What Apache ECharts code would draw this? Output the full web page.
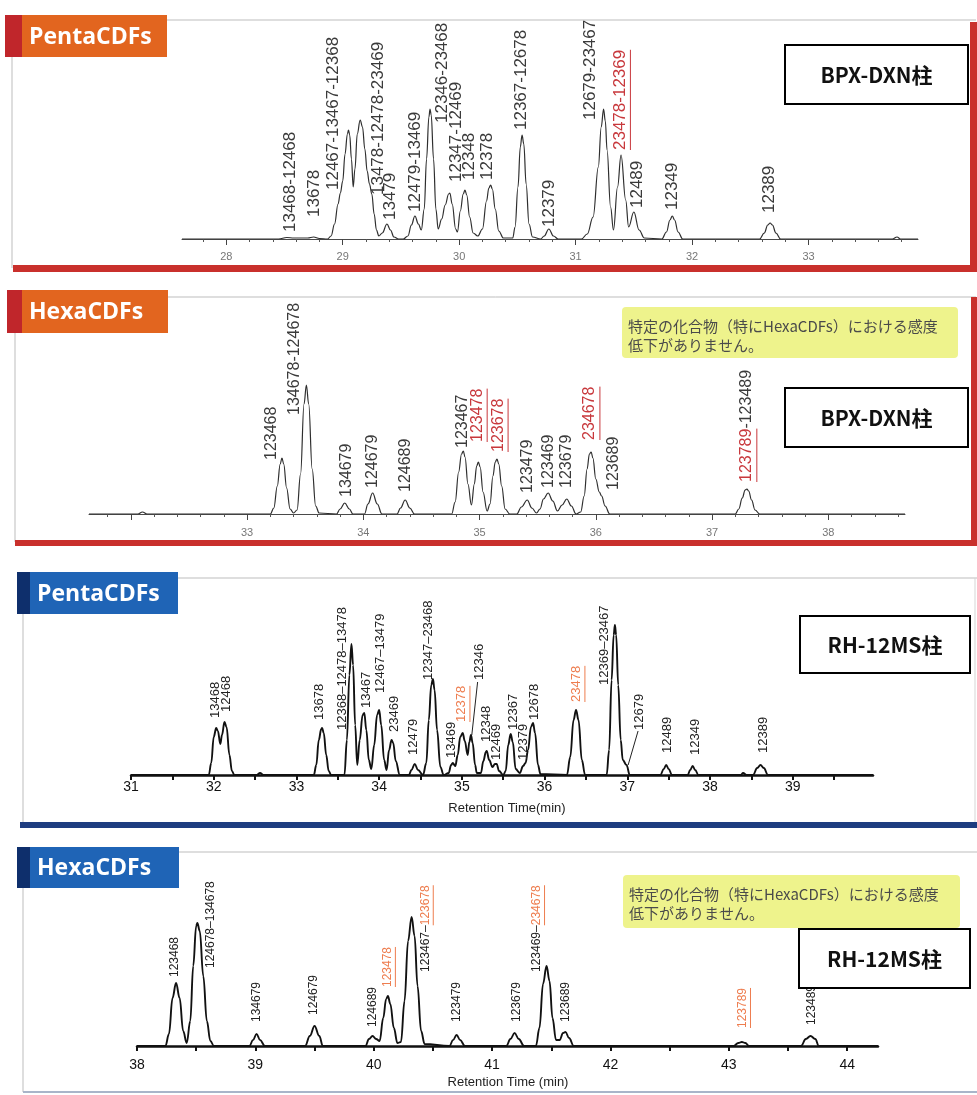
<!DOCTYPE html>
<html><head><meta charset="utf-8">
<script src="https://cdn.jsdelivr.net/npm/echarts@6/dist/echarts.min.js"></script>
<style>html,body{margin:0;padding:0;background:#fff}#c{width:977px;height:1095px}</style>
</head><body><div id="c"></div><script>
// ---------------- DATA (retention time [min], relative intensity) ----------------
// Panel 1: PentaCDFs on BPX-DXN
const p1Trace = [[27.62,0],[28.45,0],[28.52,1.5],[28.58,1],[28.70,1],[28.75,2],[28.80,0.5],[28.87,0],
 [28.90,3],[28.93,15],[28.96,35],[28.98,46],[29.00,58],[29.02,85],[29.04,105],[29.05,109],[29.06,104],[29.075,80],[29.09,52],[29.105,70],[29.125,105],[29.15,119],[29.17,112],[29.19,90],[29.21,68],[29.23,55],[29.25,45],[29.27,25],[29.29,9],[29.31,3],
 [29.34,6],[29.38,15],[29.41,9],[29.44,2],[29.48,0],[29.52,0],
 [29.56,3],[29.59,14],[29.62,23],[29.65,15],[29.675,9],[29.70,30],[29.72,80],[29.74,122],[29.75,130],[29.76,124],[29.78,80],[29.80,30],[29.82,10],[29.85,20],[29.88,34],[29.91,45],[29.92,46],[29.94,35],[29.97,10],[29.985,7],
 [30.01,28],[30.035,45],[30.05,49],[30.065,44],[30.09,22],[30.12,6],[30.16,3],[30.20,10],[30.235,38],[30.255,51],[30.27,54],[30.285,50],[30.31,30],[30.34,8],[30.38,1],
 [30.46,1],[30.48,12],[30.505,52],[30.525,92],[30.54,104],[30.555,95],[30.575,55],[30.60,15],[30.63,2],[30.70,0],[30.73,3],[30.77,10],[30.81,3],[30.85,0],
 [31.05,0],[31.10,5],[31.15,22],[31.195,72],[31.22,112],[31.24,130],[31.255,118],[31.27,89],[31.30,32],[31.325,9],[31.36,52],[31.39,84],[31.43,39],[31.455,12],[31.50,27],[31.545,9],[31.59,1],
 [31.74,0],[31.78,7],[31.81,19],[31.83,23],[31.85,19],[31.88,7],[31.92,0],[32.58,0],[32.62,6],[32.65,14],[32.67,16],[32.69,14],[32.72,6],[32.76,0],[33.72,0],[33.76,2],[33.79,0],[33.94,0]];
const p1LabelText = ['13468-12468','13678','12467-13467-12368','13478-12478-23469','13479','12479-13469','12346-23468','12347-12469','12348','12378','12367-12678','12379','12679-23467','[23478-12369]','12489','12349','12389'];
const p1LabelRt   = [28.55,28.76,28.92,29.31,29.41,29.62,29.853,29.977,30.09,30.24,30.53,30.77,31.13,31.38,31.53,31.83,32.66];
const p1LabelBase = [7,22,49,44,19,27,116,57,59,59,109,12,119,89,31,29,26];
const p1TickMinor = [27.8,28.0,28.2,28.4,28.6,28.8,29.0,29.2,29.4,29.6,29.8,30.0,30.2,30.4,30.6,30.8,31.0,31.2,31.4,31.6,31.8,32.0,32.2,32.4,32.6,32.8,33.0,33.2,33.4,33.6,33.8];
const p1TickMajor = [28,29,30,31,32,33];
const p1TickLabels = [28,29,30,31,32,33];

// Panel 2: HexaCDFs on BPX-DXN
const p2Trace = [[31.64,0],[32.06,0],[32.10,2],[32.14,0],[33.20,0],[33.23,6],[33.26,28],[33.285,50],[33.30,56],[33.315,50],[33.34,26],[33.37,5],[33.40,1],[33.43,4],[33.46,40],[33.49,110],[33.51,129],[33.53,110],[33.56,45],[33.59,8],[33.62,1],
 [33.77,0],[33.80,5],[33.84,11],[33.88,5],[33.91,0],[34.01,0],[34.04,10],[34.08,21],[34.12,10],[34.16,0],[34.29,0],[34.32,6],[34.36,14],[34.40,6],[34.44,0],
 [34.76,0],[34.79,12],[34.82,42],[34.845,60],[34.86,63],[34.875,57],[34.90,30],[34.93,9],[34.955,30],[34.975,48],[34.99,52],[35.005,47],[35.03,22],[35.065,3],[35.09,10],[35.115,38],[35.135,52],[35.15,55],[35.165,50],[35.19,28],[35.22,5],[35.26,0],
 [35.32,0],[35.36,7],[35.41,14],[35.45,6],[35.49,1],[35.52,5],[35.55,15],[35.59,21],[35.63,13],[35.67,3],[35.71,9],[35.75,15],[35.79,8],[35.83,0],
 [35.87,2],[35.90,18],[35.925,45],[35.945,60],[35.96,62],[35.975,56],[36.00,35],[36.03,22],[36.05,18],[36.08,8],[36.12,0],[37.20,0],[37.23,5],[37.26,16],[37.285,24],[37.30,25],[37.315,23],[37.34,14],[37.37,4],[37.41,0],[38.66,0]];
const p2LabelText = ['123468','134678-124678','134679','124679','124689','123467','[123478]','[123678]','123479','123469','123679','[234678]','123689','[123789]-123489'];
const p2LabelRt   = [33.215,33.41,33.86,34.08,34.36,34.85,34.98,35.16,35.41,35.59,35.75,35.95,36.15,37.30];
const p2LabelBase = [54,99,17,26,22,66,72,62,21,26,26,74,24,32];
const p2TickMinor = [31.8,32.0,32.2,32.4,32.6,32.8,33.0,33.2,33.4,33.6,33.8,34.0,34.2,34.4,34.6,34.8,35.0,35.2,35.4,35.6,35.8,36.0,36.2,36.4,36.6,36.8,37.0,37.2,37.4,37.6,37.8,38.0,38.2,38.4,38.6];
const p2TickMajor = [32,33,34,35,36,37,38];
const p2TickLabels = [33,34,35,36,37,38];

// Panel 3: PentaCDFs on RH-12MS
const p3Trace = [[31,0],[31.94,0],[31.97,12],[32.00,38],[32.03,47],[32.05,44],[32.08,31],[32.10,40],[32.13,53],[32.155,48],[32.19,20],[32.22,4],[32.25,0],[32.52,0],[32.56,2],[32.60,0],
 [33.21,0],[33.24,10],[33.27,35],[33.30,46],[33.31,47],[33.33,42],[33.36,20],[33.39,4],[33.42,0],[33.58,0],[33.61,35],[33.64,100],[33.665,131],[33.685,110],[33.71,50],[33.735,10],[33.765,35],[33.80,60],[33.82,62],[33.845,45],[33.875,15],[33.905,6],
 [33.94,30],[33.975,60],[34.00,65],[34.025,50],[34.06,15],[34.09,5],[34.12,25],[34.15,35],[34.17,32],[34.20,14],[34.25,0],
 [34.36,0],[34.39,5],[34.43,11],[34.47,5],[34.53,0],[34.57,12],[34.60,55],[34.63,90],[34.65,96],[34.67,85],[34.70,45],[34.74,8],[34.78,0],[34.84,2],[34.87,10],[34.89,12],[34.92,9],[34.95,20],[34.98,38],[35.01,42],[35.035,34],[35.07,20],[35.09,33],[35.11,40],[35.13,32],[35.16,10],[35.18,2],
 [35.23,2],[35.26,14],[35.29,23],[35.30,24],[35.33,15],[35.37,8],[35.40,11],[35.42,11],[35.45,4],[35.50,0],[35.53,4],[35.56,30],[35.59,41],[35.615,33],[35.65,6],[35.70,2],[35.74,9],[35.77,12],[35.80,25],[35.835,48],[35.86,52],[35.885,42],[35.92,10],[35.95,1],
 [36.27,0],[36.31,18],[36.35,55],[36.38,65],[36.41,55],[36.45,15],[36.49,0],[36.75,0],[36.78,25],[36.81,95],[36.835,140],[36.85,150],[36.865,140],[36.89,90],[36.92,35],[36.945,15],[36.99,10],[37.03,0],
 [37.40,0],[37.44,6],[37.47,10],[37.50,6],[37.54,0],[37.73,0],[37.76,5],[37.79,9],[37.82,5],[37.86,0],[38.37,0],[38.40,2],[38.44,0],[38.52,0],[38.57,7],[38.61,10],[38.65,7],[38.70,0],[39.97,0]];
const p3LabelText = ['13468','12468','13678','12368\u201312478\u201313478','13467','12467\u201313479','23469','12479','12347\u201323468','13469','[12378]','12346','12348','12469','12367','12379','12678','[23478]','12369\u201323467','12679','12489','12349','12389'];
const p3LabelRt   = [32.02,32.15,33.28,33.56,33.84,34.01,34.18,34.41,34.59,34.87,35.00,35.21,35.30,35.42,35.62,35.75,35.88,36.39,36.72,37.15,37.49,37.82,38.64];
const p3LabelBase = [57,63,55,45,67,82,43,20,95,17,53,95,33,15,45,15,55,73,90,45,22,20,22];
const p3LeaderFrom = [[35.19,93],[37.13,44]];
const p3LeaderTo   = [[35.12,40],[37.01,10]];
const p3Ticks = [31,31.5,32,32.5,33,33.5,34,34.5,35,35.5,36,36.5,37,37.5,38,38.5,39,39.5];
const p3TickLabels = [31,32,33,34,35,36,37,38,39];

// Panel 4: HexaCDFs on RH-12MS
const p4Trace = [[38,0],[38.24,0],[38.27,12],[38.30,48],[38.33,63],[38.36,48],[38.39,15],[38.42,3],[38.45,25],[38.475,80],[38.50,120],[38.51,123],[38.53,115],[38.56,70],[38.59,25],[38.62,5],[38.65,0],
 [38.95,0],[38.98,6],[39.01,12],[39.04,6],[39.08,0],[39.42,0],[39.46,10],[39.50,20],[39.54,10],[39.57,0],[39.93,0],[39.96,7],[39.99,10],[40.02,7],[40.05,5],[40.08,28],[40.105,47],[40.12,50],[40.14,42],[40.17,18],[40.20,3],
 [40.23,4],[40.26,45],[40.29,105],[40.32,129],[40.345,110],[40.37,60],[40.40,15],[40.43,2],[40.64,0],[40.67,6],[40.70,11],[40.73,6],[40.77,0],[41.12,0],[41.155,7],[41.19,13],[41.225,7],[41.27,0],
 [41.37,0],[41.40,18],[41.43,62],[41.46,80],[41.485,65],[41.51,28],[41.54,6],[41.57,6],[41.60,13],[41.62,14],[41.65,8],[41.69,0],[43.04,0],[43.08,3],[43.11,4],[43.14,3],[43.17,0],[43.61,0],[43.65,7],[43.69,10],[43.73,7],[43.76,0],[44.26,0]];
const p4LabelText = ['123468','124678\u2013134678','134679','124679','124689','[123478]','123467\u2013[123678]','123479','123679','123469\u2013[234678]','123689','[123789]','123489'];
const p4LabelRt   = [38.32,38.62,39.01,39.49,39.99,40.12,40.44,40.70,41.21,41.38,41.62,43.12,43.70];
const p4LabelBase = [69,78,24,31,19,59,74,24,24,74,24,18,21];
const p4Ticks = [38,38.5,39,39.5,40,40.5,41,41.5,42,42.5,43,43.5,44];
const p4TickLabels = [38,39,40,41,42,43,44];

// ---------------- RENDERING ----------------
const FF = '"Liberation Sans", Arial, sans-serif';
const CJK = '"Noto Sans CJK JP", "Noto Sans CJK SC", sans-serif';
const mctx = document.createElement('canvas').getContext('2d');
function tw(s, size) { mctx.font = size + 'px ' + FF; return mctx.measureText(s).width; }

const panels = [
  {grid:{left:182,top:20,width:736,height:219}, min:27.62, max:33.94, trace:p1Trace, texts:p1LabelText, rts:p1LabelRt, bases:p1LabelBase,
   ticks:p1TickMinor, major:p1TickMajor, tickLabels:p1TickLabels, style:'bpx', lab:{size:17,color:'#3a3a3a',hi:'#c8383c',ul:true}, labelMargin:12},
  {grid:{left:89,top:290,width:816,height:224}, min:31.64, max:38.66, trace:p2Trace, texts:p2LabelText, rts:p2LabelRt, bases:p2LabelBase,
   ticks:p2TickMinor, major:p2TickMajor, tickLabels:p2TickLabels, style:'bpx', lab:{size:16,color:'#3a3a3a',hi:'#c8383c',ul:true}, labelMargin:13},
  {grid:{left:131,top:578,width:742,height:197}, min:31, max:39.97, trace:p3Trace, texts:p3LabelText, rts:p3LabelRt, bases:p3LabelBase,
   ticks:p3Ticks, tickLabels:p3TickLabels, style:'rh', lab:{size:13,color:'#222',hi:'#ee7d4f',ul:true}, labelMargin:5},
  {grid:{left:137,top:852,width:741,height:194}, min:38, max:44.26, trace:p4Trace, texts:p4LabelText, rts:p4LabelRt, bases:p4LabelBase,
   ticks:p4Ticks, tickLabels:p4TickLabels, style:'rh', lab:{size:12,color:'#222',hi:'#ee7d4f',ul:true}, labelMargin:12}
];

const grid = [], xAxis = [], yAxis = [], series = [];
panels.forEach((p, i) => {
  grid.push(Object.assign({outerBoundsMode:'none', containLabel:false}, p.grid));
  const bpx = p.style === 'bpx';
  xAxis.push({
    gridIndex:i, type:'value', min:p.min, max:p.max,
    axisLine:{show:true, onZero:false, lineStyle:{color: bpx ? '#4a4a4a' : '#111', width: bpx ? 1 : 2.5}},
    axisTick:{show:true, customValues:p.ticks, length: bpx ? 3 : 5, lineStyle:{color: bpx ? '#555' : '#111', width: bpx ? 1 : 2}},
    axisLabel:{show:true, customValues:p.tickLabels, margin:p.labelMargin, color: bpx ? '#777' : '#111', fontSize: bpx ? 11 : 14, fontFamily:FF},
    splitLine:{show:false}
  });
  yAxis.push({gridIndex:i, type:'value', min:0, max:p.grid.height, show:false});
  series.push({
    type:'line', xAxisIndex:i, yAxisIndex:i, data:p.trace, showSymbol:false, symbol:'none',
    smooth:0.4, smoothMonotone:'x', silent:true, z:3,
    lineStyle:{color: bpx ? '#2e2e2e' : '#111', width: bpx ? 1.2 : 1.9}
  });
  const st = p.lab;
  series.push({
    type:'custom', xAxisIndex:i, yAxisIndex:i, silent:true, clip:false, z:5,
    data:p.rts.map((t, k) => [t, p.bases[k]]),
    renderItem:(params, api) => {
      const raw = p.texts[params.dataIndex];
      const c = api.coord([api.value(0), api.value(1)]);
      const m = raw.match(/^(.*?)\[(.*?)\](.*)$/);
      const segs = m ? [[m[1], false], [m[2], true], [m[3], false]] : [[raw, false]];
      const children = [];
      let off = 0;
      segs.forEach(([s, hi]) => {
        if (!s) return;
        const w = tw(s, st.size);
        children.push({type:'text', x:c[0], y:c[1] - off, rotation:Math.PI / 2,
          style:{text:s, fill: hi ? st.hi : st.color, fontSize:st.size, fontFamily:FF, align:'left', verticalAlign:'middle'}});
        if (hi && st.ul) {
          const ux = c[0] + st.size * 0.62;
          children.push({type:'line', shape:{x1:ux, y1:c[1] - off, x2:ux, y2:c[1] - off - w}, style:{stroke:st.hi, lineWidth:1}});
        }
        off += w;
      });
      return {type:'group', children};
    }
  });
});
// major tick overlays for BPX panels
[0, 1].forEach(i => {
  const p = panels[i];
  xAxis.push({gridIndex:i, type:'value', min:p.min, max:p.max, position:'bottom',
    axisLine:{show:false}, axisLabel:{show:false}, splitLine:{show:false},
    axisTick:{show:true, customValues:p.major, length:6, lineStyle:{color:'#444', width:1}}});
});
// leader lines in panel 3
series.push({type:'lines', coordinateSystem:'cartesian2d', xAxisIndex:2, yAxisIndex:2, silent:true, z:4,
  lineStyle:{color:'#222', width:1, opacity:1},
  data:p3LeaderFrom.map((f, k) => ({coords:[f, p3LeaderTo[k]]}))});

// ---------------- FRAMES / DECORATION ----------------
const G = [];
function line(x1, y1, x2, y2, color, w, z) { G.push({type:'line', z:z||1, shape:{x1, y1, x2, y2}, style:{stroke:color, lineWidth:w||1}}); }
function rect(x, y, w, h, fill, z) { G.push({type:'rect', z:z||1, shape:{x, y, width:w, height:h}, style:{fill}}); }
function text(x, y, s, font, fill, align, z) { G.push({type:'text', z:z||20, x, y, style:{text:s, font, fill, align:align||'left', verticalAlign:'middle'}}); }
function tab(x, y, w, h, sw, fill, strip, label) {
  rect(x, y, w, h, fill, 10); rect(x, y, sw, h, strip, 11);
  text(x + sw + 7, y + h / 2 + 1, label, 'bold 23px "Open Sans", "Lato", sans-serif', '#fff', 'left', 12);
}
function colBox(x, y, w, h, label) {
  G.push({type:'rect', z:30, shape:{x, y, width:w, height:h}, style:{fill:'#fff', stroke:'#000', lineWidth:2}});
  text(x + w / 2, y + h / 2 + 1, label, 'bold 21px ' + CJK, '#111', 'center', 31);
}
function note(x, y, w, h) {
  G.push({type:'rect', z:8, shape:{x, y, width:w, height:h, r:4}, style:{fill:'#eef38c'}});
  text(x + 6, y + 19, '特定の化合物（特にHexaCDFs）における感度', '15px ' + CJK, '#4a4a4a', 'left', 9);
  text(x + 6, y + 38, '低下がありません。', '15px ' + CJK, '#4a4a4a', 'left', 9);
}
// Panel 1
line(12, 20, 976, 20, '#bdbdbd'); line(12, 20, 12, 268, '#bdbdbd');
rect(970, 22, 7, 250, '#c9302c', 2); rect(13, 265, 964, 7, '#c9302c', 2);
tab(5, 15, 162, 42, 17, '#e2651f', '#c0262b', 'PentaCDFs');
colBox(785, 45, 183, 59, 'BPX-DXN柱');
// Panel 2
line(15, 297, 976, 297, '#bdbdbd'); line(15, 297, 15, 542, '#bdbdbd');
rect(971, 297, 6, 249, '#c9302c', 2); rect(15, 540, 962, 6, '#c9302c', 2);
tab(7, 290, 161, 43, 15, '#e2651f', '#c0262b', 'HexaCDFs');
note(622, 307, 336, 51);
colBox(785, 388, 183, 59, 'BPX-DXN柱');
// Panel 3
line(23, 578, 977, 578, '#bdbdbd'); line(23, 578, 23, 823, '#bdbdbd'); line(975, 578, 975, 823, '#d5d5d5');
rect(20, 822, 957, 6, '#1e3d80', 2);
tab(17, 572, 161, 42, 13, '#1f64b6', '#0e2f6c', 'PentaCDFs');
colBox(800, 616, 170, 57, 'RH-12MS柱');
text(507, 808, 'Retention Time(min)', '13px ' + FF, '#222', 'center', 6);
// Panel 4
line(23, 852, 977, 852, '#bdbdbd'); line(23, 852, 23, 1092, '#bdbdbd'); line(23, 1092, 977, 1092, '#a9b5c9', 2);
tab(17, 847, 162, 41, 13, '#1f64b6', '#0e2f6c', 'HexaCDFs');
note(623, 875, 337, 53);
colBox(799, 929, 171, 59, 'RH-12MS柱');
text(508, 1082, 'Retention Time (min)', '13px ' + FF, '#222', 'center', 6);

const chart = echarts.init(document.getElementById('c'), null, {renderer:'canvas'});
chart.setOption({
  backgroundColor:'#fff', animation:false,
  grid, xAxis, yAxis, series,
  graphic:{elements:G}
});
</script></body></html>
